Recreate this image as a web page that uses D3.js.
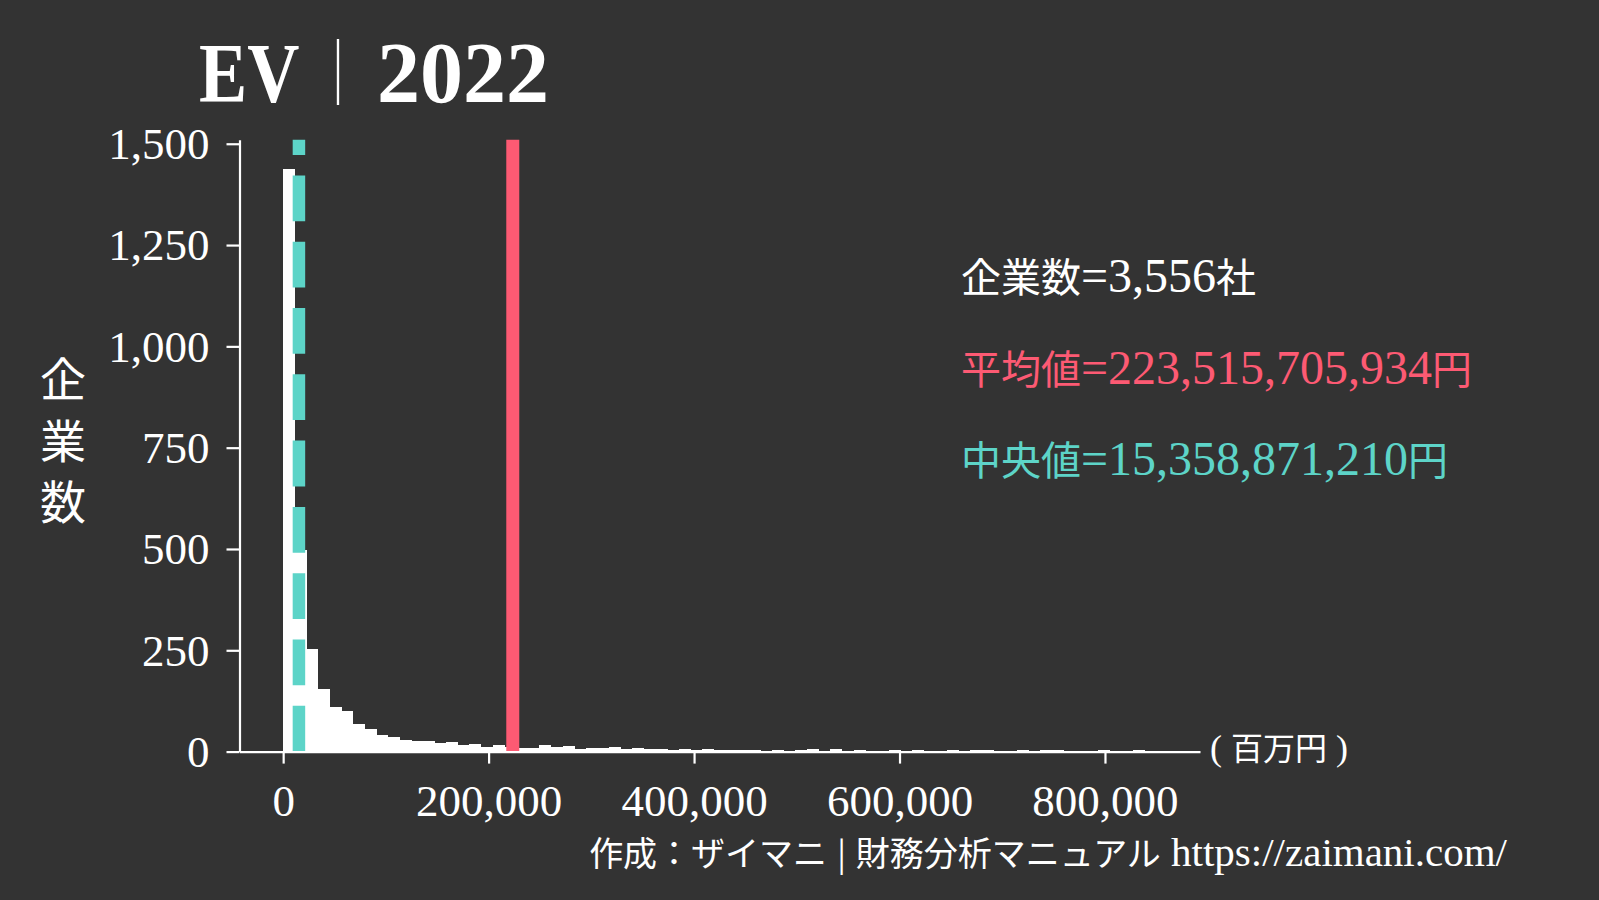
<!DOCTYPE html>
<html>
<head>
<meta charset="utf-8">
<script src="https://cdn.jsdelivr.net/npm/d3@7"></script>
<style>
  html, body { margin: 0; padding: 0; background: #333333; }
  svg { display: block; }
</style>
</head>
<body>
<svg id="chart" width="1599" height="900"></svg>
<script>
// ---------- data ----------
const binStart = 0;            // 百万円
const binWidth = 11333.33;     // 百万円
const binCounts = [
  1438, 498, 253, 155, 110, 100, 68, 56, 41, 36,
  28, 27, 26, 21, 24, 16, 19, 11, 16, 12,
  9, 10, 16, 12, 14, 7, 10, 9, 12, 7,
  9, 6, 6, 4, 6, 5, 6, 5, 3, 4,
  5, 2, 4, 2, 3, 6, 2, 6, 2, 5,
  2, 1, 4, 2, 3, 2, 1, 4, 1, 3,
  5, 1, 2, 4, 1, 4, 3, 1, 1, 2,
  4, 1, 1, 3, 1
];
const meanValue = 223515.705934;   // 百万円
const medianValue = 15358.871210;  // 百万円
const xTicks = [0, 200000, 400000, 600000, 800000];
const yTicks = [0, 250, 500, 750, 1000, 1250, 1500];
const xDomain = [-42500, 892500];
const yDomain = [0, 1510];
const titleParts = ["EV", "｜", "2022"];
const yLabelChars = ["企", "業", "数"];
const statLines = ["企業数=3,556社", "平均値=223,515,705,934円", "中央値=15,358,871,210円"];
const unitLabel = "( 百万円 )";
const footer = "作成：ザイマニ | 財務分析マニュアル https://zaimani.com/";

// ---------- style ----------
const BG = "#333333", FG = "#ffffff", RED = "#fd5a73", TEAL = "#5dd4c8";
const LATIN = "'Liberation Serif', serif";
const CJK = "'Noto Sans CJK JP', sans-serif";

const svg = d3.select("#chart");
svg.append("rect").attr("width", 1599).attr("height", 900).attr("fill", BG);

const x = d3.scaleLinear().domain(xDomain).range([239.5, 1200]);
const y = d3.scaleLinear().domain(yDomain).range([751.6, 139.7]);

// mixed CJK / Latin text helper
const cjkRe = /[\u3000-\u30ff\u4e00-\u9fff\uff00-\uffef]/;
function mixed(sel, str, cjkSize, latSize) {
  const runs = [];
  for (const ch of str) {
    const c = cjkRe.test(ch);
    if (runs.length && runs[runs.length - 1].c === c) runs[runs.length - 1].s += ch;
    else runs.push({ c, s: ch });
  }
  runs.forEach(r => {
    sel.append("tspan")
      .attr("font-family", r.c ? CJK : LATIN)
      .attr("font-size", r.c ? cjkSize : latSize)
      .text(r.s);
  });
  return sel;
}

// ---------- bars ----------
const bars = binCounts.map((c, i) => ({ x0: binStart + i * binWidth, x1: binStart + (i + 1) * binWidth, n: c }));
svg.append("g").selectAll("rect").data(bars).join("rect")
  .attr("x", d => x(d.x0))
  .attr("width", d => x(d.x1) - x(d.x0) + 0.3)
  .attr("y", d => y(d.n))
  .attr("height", d => y(0) - y(d.n))
  .attr("fill", FG)
  .attr("shape-rendering", "crispEdges");

// ---------- mean / median lines ----------
svg.append("line")
  .attr("x1", x(medianValue)).attr("x2", x(medianValue))
  .attr("y1", y(yDomain[0])).attr("y2", y(yDomain[1]))
  .attr("stroke", TEAL).attr("stroke-width", 12.5)
  .attr("stroke-dasharray", "45.8,20.5");
svg.append("line")
  .attr("x1", x(meanValue)).attr("x2", x(meanValue))
  .attr("y1", y(yDomain[0])).attr("y2", y(yDomain[1]))
  .attr("stroke", RED).attr("stroke-width", 13);

// ---------- axes ----------
const fmt = d3.format(",");
const yAxis = svg.append("g").attr("transform", `translate(${x(xDomain[0])},0)`)
  .call(d3.axisLeft(y).tickValues(yTicks).tickFormat(fmt).tickSize(13).tickSizeOuter(0).tickPadding(17));
const xAxis = svg.append("g").attr("transform", `translate(0,${y(0)})`)
  .call(d3.axisBottom(x).tickValues(xTicks).tickFormat(fmt).tickSize(12).tickSizeOuter(0).tickPadding(20));
[yAxis, xAxis].forEach(g => {
  g.select(".domain").attr("stroke", FG).attr("stroke-width", 2.2);
  g.selectAll(".tick line").attr("stroke", FG).attr("stroke-width", 2.2);
  g.selectAll(".tick text").attr("fill", FG).attr("font-family", LATIN).attr("font-size", 45);
});
yAxis.selectAll(".tick text").attr("dy", "0.33em");
xAxis.selectAll(".tick text").attr("dy", "0.71em");

// ---------- title ----------
const titleG = svg.append("g").attr("fill", FG);
titleG.append("text").attr("transform", "translate(199,102) scale(0.86,1)")
  .attr("font-family", LATIN).attr("font-weight", "bold").attr("font-size", 84).text(titleParts[0]);
titleG.append("text").attr("transform", "translate(338,97) scale(1,1.1)").attr("text-anchor", "middle")
  .attr("font-family", CJK).attr("font-size", 60).attr("font-weight", 300).text(titleParts[1]);
titleG.append("text").attr("x", 377).attr("y", 102)
  .attr("font-family", LATIN).attr("font-weight", "bold").attr("font-size", 86).text(titleParts[2]);

// ---------- y label ----------
const yl = svg.append("text").attr("fill", FG).attr("font-family", CJK).attr("font-size", 46).attr("text-anchor", "middle");
yLabelChars.forEach((c, i) => {
  yl.append("tspan").attr("x", 63).attr("y", 396 + i * 61.5).text(c);
});

// ---------- stats ----------
const statColors = [FG, RED, TEAL];
statLines.forEach((s, i) => {
  const t = svg.append("text").attr("x", 961).attr("y", 292 + i * 91.5).attr("fill", statColors[i]);
  mixed(t, s, 40, 48);
});

// ---------- unit label ----------
mixed(svg.append("text").attr("x", 1210).attr("y", 760).attr("fill", FG), unitLabel, 32, 36);

// ---------- footer ----------
mixed(svg.append("text").attr("x", 1507).attr("y", 866).attr("text-anchor", "end").attr("fill", FG), footer, 34, 41);
</script>
</body>
</html>
